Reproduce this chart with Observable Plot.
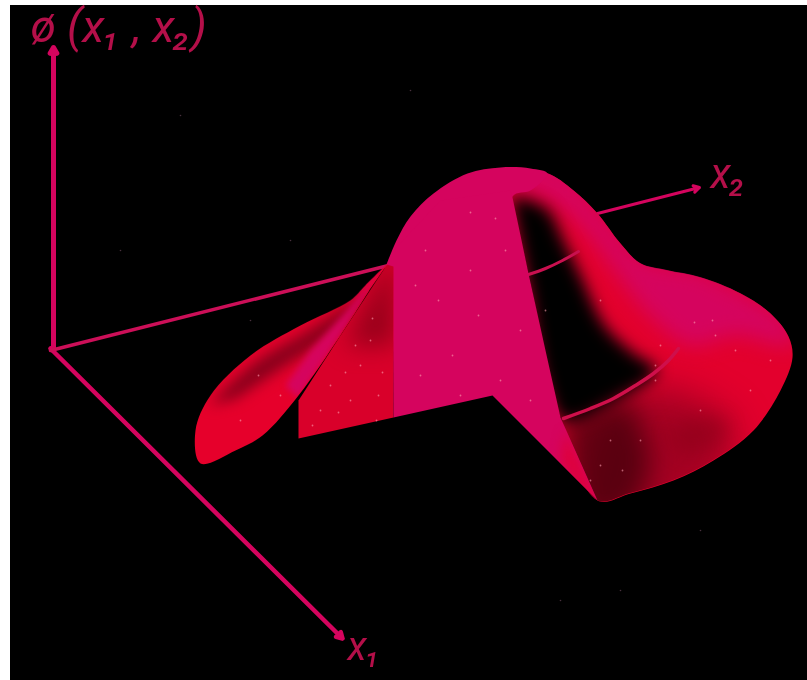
<!DOCTYPE html>
<html>
<head>
<meta charset="utf-8">
<script src="https://cdn.jsdelivr.net/npm/d3@7"></script>
<script src="https://cdn.jsdelivr.net/npm/@observablehq/plot@0.6"></script>
<style>
html,body{margin:0;padding:0;background:#fff;overflow:hidden}
svg{display:block}
</style>
</head>
<body>
<div id="chart"></div>
<script>
// Everything, as [x, y] readings in picture units.
const panel = [{x1:10, x2:807, y1:5, y2:680}];
const axes = [
  {x1:53, y1:350, x2:53,  y2:47,  w:5},
  {x1:50, y1:348, x2:342, y2:638, w:4.5},
  {x1:597,y1:213, x2:699, y2:187, w:3}
];
const axisBehind = [[50,350],[388,265]];
const rightLobe = [[510,170],[547,173],[573,190],[597,213],[620,243],[640,263],[667,270],[700,277],[740,293],[770,313],[788,336],[792,357],[780,390],[753,430],[713,460],[673,480],[630,493],[597,500],[560,417],[528,273],[510,197]];
const domeCap = [[386,264],[396,240],[410,216],[433,193],[467,173],[500,167],[530,168],[547,173],[530,190],[512,196],[510,300]];
const frontFace = [[393,417],[393,250],[440,200],[510,190],[512,197],[528,273],[545,350],[560,417],[597,500],[492,395]];
const leftFace = [[298,400],[298,438],[393,417],[394,255],[384,268],[340,335]];
const leftLobe = [[388,262],[365,285],[350,300],[300,325],[250,355],[210,395],[195,430],[200,463],[235,450],[262,435],[298,395],[340,335],[370,288]];
const ridgeGlow = [[500,160],[560,165],[605,215],[645,258],[700,270],[795,330],[790,345],[735,335],[690,345],[650,316],[615,272],[585,232],[550,200],[512,187]];
const cavity = [[510,196],[530,200],[548,210],[563,240],[580,275],[604,325],[632,352],[656,370],[618,398],[563,420],[530,300]];
const lowerShade = [[562,420],[585,520],[630,510],[650,460],[640,425],[630,400],[605,405]];
const lowerWash = [[600,410],[580,520],[700,500],[735,430],[690,395],[650,385]];
const mottle = [[690,418],[725,420],[720,440],[680,452],[668,432]];
const faceShade = [[394,255],[384,268],[345,345],[394,345]];
const lobeShade = [[208,405],[255,362],[305,332],[350,303],[372,290],[330,335],[280,368],[235,398]];
const wedge = [[390,258],[345,312],[310,350],[285,385],[298,398],[340,335],[372,285]];
const tipGlow = [[565,430],[600,505],[585,500],[560,460]];
const upperArc = [[528,274],[545,268],[562,260],[578,251]];
const lowerArc = [[563,418],[590,408],[613,398],[635,385],[653,373],[668,360],[678,348]];
const speckles = [[470,212],[495,218],[438,300],[478,315],[452,355],[425,250],[520,330],[500,380],[376,420],[355,345],[378,395],[350,400],[415,285],[460,395],[530,400],[660,345],[694,322],[715,335],[655,380],[712,320],[735,350],[700,410],[622,470],[600,465],[640,440],[590,480],[750,390],[258,375],[240,420],[280,395],[330,385],[320,410],[360,365],[545,310],[505,250],[470,270],[420,375],[610,440],[770,360],[600,300],[655,365],[345,372],[370,340],[382,372],[338,412],[312,425],[372,318]];
const starfield = [[180,115],[410,90],[290,240],[250,320],[620,590],[120,250],[700,530],[560,600]];
const labels = ["ø (x₁ , x₂)", "x₂", "x₁"];
const labelX = [30, 710, 347];
const labelY = [27, 174, 647];
const labelSize = [46, 42, 40];

const PINK = "#d5045e", RED = "#e3002d";
const X = d => d[0], Y = d => d[1];
let uid = 0;
const layer = (ring, blur, curve = d3.curveCatmullRom) => ({
  render(index, scales, values, dims, ctx, next) {
    const g = next(index, scales, values, dims, ctx);
    const id = "clip" + (++uid);
    const cp = document.createElementNS("http://www.w3.org/2000/svg", "clipPath");
    cp.setAttribute("id", id);
    const p = document.createElementNS("http://www.w3.org/2000/svg", "path");
    p.setAttribute("d", d3.line().curve(curve).x(d => scales.x(d[0])).y(d => scales.y(d[1]))(ring));
    cp.appendChild(p);
    const wrap = document.createElementNS("http://www.w3.org/2000/svg", "g");
    wrap.appendChild(cp);
    wrap.setAttribute("clip-path", `url(#${id})`);
    g.style.filter = `blur(${blur}px)`;
    wrap.appendChild(g);
    return wrap;
  }
});
const shape = (pts, fill, extra = {}) =>
  Plot.line(pts, {x: X, y: Y, fill, stroke: "none", curve: "catmull-rom", ...extra});
const poly = (pts, fill, extra = {}) =>
  Plot.line(pts, {x: X, y: Y, fill, stroke: "none", curve: "linear", ...extra});
const stroke = (pts, color, w, extra = {}) =>
  Plot.line(pts, {x: X, y: Y, stroke: color, strokeWidth: w, curve: "catmull-rom", ...extra});

const chart = Plot.plot({
  width: 807, height: 680,
  margin: 0,
  x: {domain: [0, 807], range: [0, 807], axis: null},
  y: {domain: [0, 680], range: [0, 680], axis: null},
  style: {background: "#fff"},
  marks: [
    Plot.rect(panel, {x1: "x1", x2: "x2", y1: "y1", y2: "y2", fill: "#000", inset: 0}),
    Plot.dot(starfield, {x: X, y: Y, r: 0.8, fill: "#90607a", fillOpacity: 0.5}),
    // axes
    Plot.arrow(axes, {x1: "x1", y1: "y1", x2: "x2", y2: "y2", stroke: PINK, strokeWidth: "w", headLength: 10, bend: 0}),
    stroke(axisBehind, "#cc0f58", 3.5),
    // right lobe
    shape(rightLobe, RED),
    shape(lowerWash, "#70001a", {fillOpacity: .55, ...layer(rightLobe, 18)}),
    shape(lowerShade, "#3a0008", {fillOpacity: .7, ...layer(rightLobe, 13)}),
    shape(mottle, "#8c0018", {fillOpacity: .5, ...layer(rightLobe, 9)}),
    shape(ridgeGlow, PINK, layer(rightLobe, 10)),
    shape(cavity, "#000", layer(rightLobe, 8)),
    stroke(upperArc, "#c9104f", 3),
    stroke(lowerArc, "#cf0f4b", 3.5),
    // left face and lobe
    poly(leftFace, "#d9002a"),
    poly(faceShade, "#8c0018", {fillOpacity: .85, ...layer(leftFace, 12, d3.curveLinear)}),
    shape(leftLobe, "#e6002b"),
    shape(lobeShade, "#80001a", {fillOpacity: .95, ...layer(leftLobe, 7)}),
    poly(wedge, PINK, layer(leftLobe, 3)),
    // central face
    shape(domeCap, PINK),
    poly(frontFace, PINK),
    poly(tipGlow, RED, {fillOpacity: .7, ...layer(frontFace, 6, d3.curveLinear)}),
    // speckle
    Plot.dot(speckles, {x: X, y: Y, r: 0.9, fill: "#ff9fb0", fillOpacity: 0.6}),
    // labels
    Plot.text(labels, {
      x: (d, i) => labelX[i], y: (d, i) => labelY[i], text: d => d,
      fontSize: (d, i) => labelSize[i], textAnchor: "start", lineAnchor: "middle",
      fill: "#b40f49", fontFamily: "Roboto, 'DejaVu Sans', sans-serif",
      fontStyle: "italic", fontWeight: 400
    })
  ]
});
chart.style.filter = "blur(0.6px)";
document.getElementById("chart").appendChild(chart);
</script>
</body>
</html>
